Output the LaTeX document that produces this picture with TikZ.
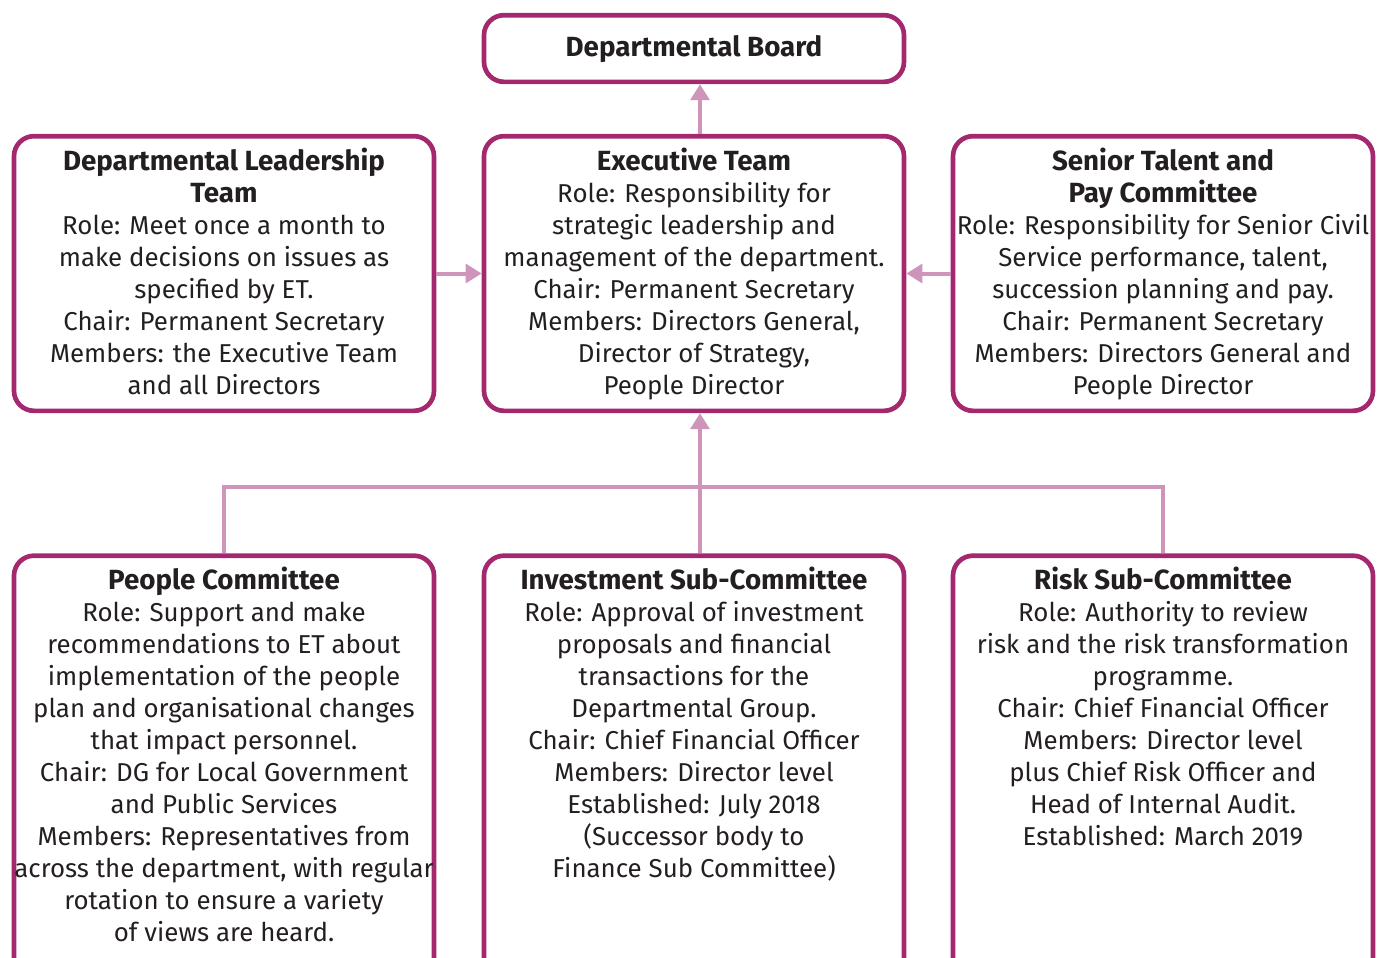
\documentclass[tikz,border=0pt]{standalone}
\usepackage{fontspec}
\setmainfont{Fira Sans}
\usepackage{tikz}
\usetikzlibrary{arrows.meta}
\definecolor{boxline}{HTML}{A3286E}
\definecolor{linkline}{HTML}{CF94B9}
\definecolor{txtcol}{HTML}{231F20}
\tikzset{>={Triangle[length=12pt,width=14pt]}}
\tikzset{box/.style = {draw=boxline, line width=3.5pt, rounded corners=15pt,
minimum width=315pt, inner sep=0pt, outer sep=1.75pt}}
\tikzset{txt/.style = {anchor=north, align=center, inner sep=0pt, text=txtcol,
font=\fontsize{19.4}{24}\selectfont}}
\tikzset{link/.style = {draw=linkline, line width=3pt}}
\newcommand{\firstline}{\rule{0pt}{18pt}}
\newcommand{\hd}[1]{{\fontsize{20.8}{24}\selectfont\bfseries #1}}

\begin{document}
\begin{tikzpicture}[x=0.75pt,y=-0.75pt]
                \useasboundingbox (0,0) rectangle (1381,957);
                \clip (0,0) rectangle (1381,957);

                \node[box, minimum height=50pt] (board) at (694,48.5) {};
                \node[box, minimum height=206pt] (dlt) at (224,273.5) {};
                \node[box, minimum height=206pt] (et) at (694,273.5) {};
                \node[box, minimum height=206pt] (stpc) at (1163,273.5) {};
                \node[box, minimum height=320pt] (people) at (224,769) {};
                \node[box, minimum height=320pt] (inv) at (694,769) {};
                \node[box, minimum height=320pt] (risk) at (1163,769) {};

                \node[txt] (boardtxt) at ([yshift=-14.5pt]board.north)
                    {\firstline\hd{Departmental Board}};
                \node[txt] (dlttxt) at ([yshift=-9.25pt]dlt.north)
                    {\firstline\hd{Departmental Leadership}\\\hd{Team}\\
                    Role: Meet once a month to\\make decisions on issues as\\
                    specified by ET.\\Chair: Permanent Secretary\\
                    Members: the Executive Team\\and all Directors};
                \node[txt] (ettxt) at ([yshift=-9.25pt]et.north)
                    {\firstline\hd{Executive Team}\\Role: Responsibility for\\
                    strategic leadership and\\management of the department.\\
                    Chair: Permanent Secretary\\Members: Directors General,\\
                    Director of Strategy,\\People Director};
                \node[txt] (stpctxt) at ([yshift=-9.25pt]stpc.north)
                    {\firstline\hd{Senior Talent and}\\\hd{Pay Committee}\\
                    Role: Responsibility for Senior Civil\\
                    Service performance, talent,\\succession planning and pay.\\
                    Chair: Permanent Secretary\\Members: Directors General and\\
                    People Director};
                \node[txt] (peopletxt) at ([yshift=-9.25pt]people.north)
                    {\firstline\hd{People Committee}\\Role: Support and make\\
                    recommendations to ET about\\implementation of the people\\
                    plan and organisational changes\\that impact personnel.\\
                    Chair: DG for Local Government\\and Public Services\\
                    Members: Representatives from\\
                    across the department, with regular\\
                    rotation to ensure a variety\\of views are heard.};
                \node[txt] (invtxt) at ([yshift=-9.25pt]inv.north)
                    {\firstline\hd{Investment Sub-Committee}\\
                    Role: Approval of investment\\proposals and financial\\
                    transactions for the\\Departmental Group.\\
                    Chair: Chief Financial Officer\\Members: Director level\\
                    Established: July 2018\\(Successor body to\\
                    Finance Sub Committee)};
                \node[txt] (risktxt) at ([yshift=-9.25pt]risk.north)
                    {\firstline\hd{Risk Sub-Committee}\\
                    Role: Authority to review\\risk and the risk transformation\\
                    programme.\\Chair: Chief Financial Officer\\
                    Members: Director level\\plus Chief Risk Officer and\\
                    Head of Internal Audit.\\Established: March 2019};

                \coordinate (bus) at (700,487);

                \draw[link,->] ([xshift=4.5pt]et.north) -- ([xshift=4.5pt]board.south);
                \draw[link,->] (dlt.east) -- (et.west);
                \draw[link,->] (stpc.west) -- (et.east);
                \draw[link,->] ([xshift=4.5pt]inv.north) -- ([xshift=4.5pt]et.south);
                \draw[link] (people.north) |- (bus) -| (risk.north);
            \end{tikzpicture}
\end{document}
